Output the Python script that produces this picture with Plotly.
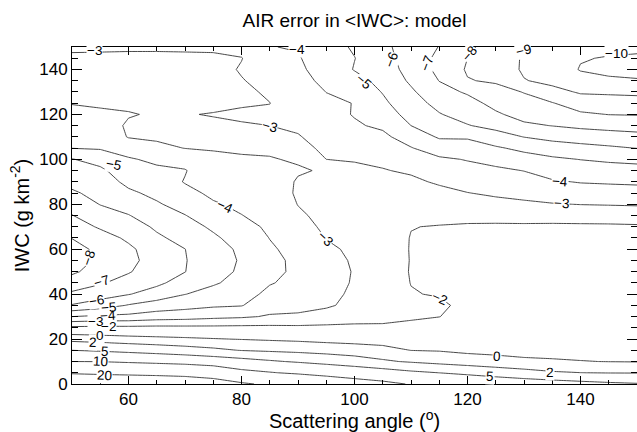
import plotly.graph_objects as go

# Scattering angle (deg) grid and IWC (g km-2) grid
scattering_angle = [50, 55, 60, 65, 70, 75, 80, 85, 90, 95, 100,
                    105, 110, 115, 120, 125, 130, 135, 140, 145, 150]
iwc = [0, 5, 10, 15, 20, 25, 30, 35, 40, 45, 50, 55, 60, 65, 70, 75,
       80, 85, 90, 95, 100, 105, 110, 115, 120, 125, 130, 135, 140, 145, 150]

# AIR error (%), one list per scattering angle (IWC 0..150)
err_050 = [29.5, 19.1, 10, 5, 1.2, -1.75, -4, -5.93, -6.81, -7.58, -8.15, -8.35, -8.3, -7.98, -7.51, -7.03,
           -6.58, -6.13, -5.74, -5.39, -5.04, -3.98, -3.73, -3.47, -3.21, -2.97, -2.8, -2.63, -2.75, -2.9, -3.1]
err_055 = [28.6, 18.45, 9.9, 4.53, 0.91, -1.71, -3.81, -5.5, -6.44, -7.1, -7.6, -7.85, -7.8, -7.45, -6.87, -6.41,
           -5.97, -5.71, -5.45, -5.18, -4.67, -3.91, -3.65, -3.39, -3.13, -2.9, -2.7, -2.6, -2.7, -2.88, -3.1]
err_060 = [28.2, 17.96, 9.22, 4.0, 0.63, -1.73, -3.75, -4.93, -6.05, -6.6, -7.08, -7.25, -7.2, -6.82, -6.43, -6.04,
           -5.6, -5.16, -4.78, -4.44, -4.1, -3.55, -2.95, -2.9, -3.05, -2.85, -2.65, -2.55, -2.65, -2.85, -3.1]
err_065 = [27.8, 17.4, 8.56, 3.5, 0.44, -1.71, -3.51, -4.55, -5.56, -6.2, -6.45, -6.6, -6.45, -6.15, -5.86, -5.48,
           -5.1, -4.78, -4.49, -4.19, -3.8, -3.23, -2.85, -2.8, -2.92, -2.75, -2.6, -2.55, -2.6, -2.85, -3.1]
err_070 = [27.0, 16.6, 7.9, 3.0, 0.27, -1.73, -3.42, -4.33, -5.02, -5.58, -6.02, -6.05, -6.01, -5.71, -5.37, -5.03,
           -4.64, -4.25, -3.95, -4.05, -3.65, -2.98, -2.8, -2.78, -2.95, -2.72, -2.6, -2.55, -2.6, -2.85, -3.12]
err_075 = [25.0, 14.8, 7.07, 2.49, 0.09, -1.75, -3.24, -4.14, -4.68, -5.1, -5.3, -5.4, -5.35, -5.15, -4.85, -4.47,
           -4.09, -3.83, -3.6, -3.38, -3.15, -2.95, -2.8, -2.82, -3.05, -2.75, -2.6, -2.6, -2.65, -2.85, -3.15]
err_080 = [21.2, 11.5, 6.22, 1.92, -0.07, -1.73, -3.13, -4.05, -4.4, -4.7, -4.88, -4.92, -4.85, -4.6, -4.3, -4.02,
           -3.83, -3.64, -3.45, -3.27, -3.08, -2.9, -2.85, -2.92, -3.15, -2.9, -2.85, -2.95, -3.08, -2.97, -3.3]
err_085 = [18.5, 10.3, 5.38, 1.62, -0.22, -1.75, -2.91, -3.37, -3.76, -4.06, -4.2, -4.22, -4.12, -3.98, -3.85, -3.71,
           -3.58, -3.44, -3.3, -3.17, -3.03, -2.92, -2.88, -3.0, -3.1, -2.99, -3.1, -3.3, -3.5, -3.72, -3.98]
err_090 = [16.2, 9.26, 4.67, 1.36, -0.34, -1.77, -2.9, -3.2, -3.5, -3.75, -3.85, -3.82, -3.7, -3.5, -3.3, -3.12,
           -2.98, -2.9, -2.95, -3.05, -2.95, -2.85, -2.95, -3.12, -3.3, -3.45, -3.6, -3.72, -3.85, -3.93, -4.05]
err_095 = [14.0, 8.3, 3.92, 1.08, -0.5, -1.8, -2.55, -3.15, -3.25, -3.35, -3.35, -3.25, -3.12, -2.98, -2.85, -2.78,
           -2.75, -2.78, -2.85, -2.95, -3.0, -3.1, -3.3, -3.5, -3.7, -3.85, -4.01, -4.2, -4.35, -4.5, -4.65]
err_100 = [12.4, 7.41, 3.17, 0.82, -0.6, -1.81, -2.35, -2.7, -2.85, -2.92, -2.95, -2.92, -2.88, -2.82, -2.75, -2.72,
           -2.75, -2.8, -2.86, -2.94, -3.02, -3.35, -3.65, -3.9, -4.05, -4.02, -4.3, -4.65, -5.05, -4.98, -5.1]
err_105 = [11.2, 6.55, 2.33, 0.52, -0.69, -1.85, -2.25, -2.45, -2.55, -2.55, -2.5, -2.45, -2.45, -2.45, -2.5, -2.6,
           -2.7, -2.8, -2.88, -2.96, -3.15, -3.5, -3.8, -4.15, -4.5, -4.8, -5.05, -5.3, -5.5, -5.6, -5.7]
err_110 = [9.7, 5.6, 1.75, -0.02, -0.8, -1.8, -2.1, -2.15, -2.05, -1.98, -1.95, -1.97, -1.96, -1.97, -2.02, -2.2,
           -2.45, -2.65, -2.85, -3.1, -3.5, -3.95, -4.45, -5.0, -5.35, -5.65, -5.85, -6.15, -6.35, -6.5, -6.6]
err_115 = [8.8, 4.98, 1.2, -0.1, -0.75, -1.4, -2.02, -2.2, -1.93, -1.8, -1.75, -1.72, -1.75, -1.82, -1.96, -2.25,
           -2.5, -2.78, -3.1, -3.5, -3.85, -4.5, -5.1, -5.6, -5.95, -6.25, -6.7, -7.02, -7.25, -7.2, -7.02]
err_120 = [8.3, 4.29, 0.75, -0.3, -0.7, -1.2, -1.55, -1.7, -1.6, -1.55, -1.55, -1.6, -1.65, -1.75, -1.9, -2.25,
           -2.55, -2.98, -3.35, -3.7, -4.05, -4.6, -5.1, -5.95, -6.35, -6.7, -7.1, -7.95, -8.1, -8.0, -7.8]
err_125 = [7.6, 3.54, 0.4, -0.3, -0.6, -0.9, -1.15, -1.3, -1.4, -1.48, -1.53, -1.58, -1.63, -1.72, -1.88, -2.27,
           -2.73, -3.14, -3.5, -3.83, -4.3, -4.88, -5.6, -6.28, -6.88, -7.25, -7.65, -8.12, -8.3, -8.45, -8.5]
err_130 = [7.0, 2.86, 0.2, -0.35, -0.6, -0.85, -1.1, -1.25, -1.35, -1.43, -1.5, -1.55, -1.62, -1.72, -1.87, -2.33,
           -2.85, -3.26, -3.63, -4.02, -4.6, -5.23, -6.02, -6.85, -7.3, -7.67, -8.04, -8.95, -9.15, -9.1, -8.95]
err_135 = [6.5, 2.26, 0.15, -0.45, -0.65, -0.85, -1.05, -1.2, -1.3, -1.38, -1.45, -1.52, -1.6, -1.7, -1.85, -2.35,
           -2.95, -3.45, -3.9, -4.4, -4.85, -5.5, -6.3, -7.02, -7.55, -7.95, -8.7, -9.25, -9.5, -9.6, -9.55]
err_140 = [5.95, 2.02, 0.05, -0.5, -0.7, -0.88, -1.05, -1.18, -1.28, -1.35, -1.42, -1.5, -1.58, -1.68, -1.85, -2.4,
           -3.02, -3.55, -4.05, -4.5, -5.02, -5.7, -6.45, -7.2, -7.85, -8.5, -9.1, -9.7, -10.05, -9.95, -9.75]
err_145 = [5.5, 1.93, -0.03, -0.55, -0.75, -0.9, -1.05, -1.17, -1.27, -1.33, -1.4, -1.47, -1.55, -1.65, -1.85, -2.45,
           -3.05, -3.6, -4.1, -4.6, -5.15, -5.85, -6.6, -7.3, -8.02, -8.55, -9.15, -9.8, -10.3, -10.05, -9.8]
err_150 = [5.2, 1.91, -0.07, -0.6, -0.8, -0.93, -1.05, -1.15, -1.25, -1.32, -1.38, -1.45, -1.53, -1.63, -1.88, -2.5,
           -3.08, -3.63, -4.15, -4.65, -5.25, -6.02, -6.7, -7.4, -8.05, -8.6, -9.2, -9.9, -10.4, -10.1, -9.85]

contour_levels = [-10, -9, -8, -7, -6, -5, -4, -3, -2, 0, 2, 5, 10, 20]

# Contour labels: text, angle (deg), IWC, text angle
label_text = ["\u22123", "\u22124", "\u22125", "\u22126", "\u22127", "\u22128", "\u22129", "\u221210",
              "\u22124", "\u22123", "\u22122", "\u22123", "\u22124", "\u22125", "\u22123",
              "\u22128", "\u22127", "\u22126", "\u22125", "\u22124", "\u22123", "\u22122",
              "0", "2", "5", "10", "20", "0", "2", "5"]
label_x = [54.0, 89.8, 101.6, 106.6, 112.8, 120.4, 129.9, 146.4,
           136.4, 136.7, 115.1, 94.8, 77.1, 57.3, 85.0,
           52.9, 55.2, 54.4, 56.4, 56.4, 54.1, 56.4,
           55.0, 53.8, 55.8, 55.0, 55.8, 125.2, 134.6, 124.0]
label_y = [148.5, 148.8, 134.6, 144.3, 142.8, 147.0, 148.5, 147.0,
           90.1, 80.2, 38.2, 64.9, 79.0, 97.6, 114.6,
           56.0, 45.6, 37.1, 34.2, 30.7, 27.8, 25.8,
           21.8, 18.4, 14.4, 9.9, 4.0, 12.2, 5.0, 3.3]
label_angle = [0, 0, 40, -69, -69, -49, -14, 0,
               4, 3, 24, 43, 25, 11, 16,
               -70, -17, -9, -5, -3, 0, 0,
               0, 3, 3, 3, 3, 3, 1, 3]

x_tick_values = [60, 80, 100, 120, 140]
y_tick_values = [0, 20, 40, 60, 80, 100, 120, 140]

columns = [err_050, err_055, err_060, err_065, err_070, err_075, err_080, err_085, err_090, err_095, err_100,
           err_105, err_110, err_115, err_120, err_125, err_130, err_135, err_140, err_145, err_150]
z = [[col[j] for col in columns] for j in range(len(iwc))]

FONT = "Liberation Sans, Arial, Helvetica, sans-serif"

fig = go.Figure()
for lev in contour_levels:
    fig.add_trace(go.Contour(
        x=scattering_angle, y=iwc, z=z,
        autocontour=False,
        contours=dict(start=lev, end=lev, size=1, coloring="none", showlabels=False),
        line=dict(color="#333333", width=0.9, smoothing=0),
        showscale=False, hoverinfo="skip",
    ))

annotations = []
# pass 1: white boxes that break the contour lines under each label
for t, lx, ly, ang in zip(label_text, label_x, label_y, label_angle):
    annotations.append(dict(
        x=lx, y=ly, xref="x", yref="y", text=t, showarrow=False,
        textangle=ang, xanchor="center", yanchor="middle",
        font=dict(size=13.5, color="rgba(0,0,0,0)", family=FONT),
        bgcolor="white", borderpad=0,
    ))
# pass 2: the label texts themselves (no box, so overlapping labels stay legible)
for t, lx, ly, ang in zip(label_text, label_x, label_y, label_angle):
    annotations.append(dict(
        x=lx, y=ly, xref="x", yref="y", text=t, showarrow=False,
        textangle=ang, xanchor="center", yanchor="middle",
        font=dict(size=13.5, color="black", family=FONT),
        borderpad=0,
    ))

fig.update_layout(
    width=637, height=432,
    margin=dict(l=72, r=0, t=47, b=48),
    paper_bgcolor="white", plot_bgcolor="white",
    font=dict(family=FONT, size=17, color="black"),
    title=dict(text="AIR error in &lt;IWC&gt;: model", x=0.5565, xanchor="center",
               y=0.953, yanchor="middle", font=dict(size=19, family=FONT)),
    showlegend=False,
    annotations=annotations,
)
fig.update_xaxes(
    range=[50, 150], tickvals=x_tick_values, ticks="inside", ticklen=8, tickwidth=1, tickcolor="black",
    minor=dict(dtick=5, tick0=50, ticks="inside", ticklen=4, tickwidth=1, tickcolor="black"),
    showline=True, linecolor="black", linewidth=1, mirror="ticks",
    showgrid=False, zeroline=False,
    title=dict(text="Scattering angle (<sup>o</sup>)", standoff=2),
)
fig.update_yaxes(
    range=[0, 150], tickvals=y_tick_values, ticks="inside", ticklen=10, tickwidth=1, tickcolor="black",
    minor=dict(dtick=5, tick0=0, ticks="inside", ticklen=6, tickwidth=1, tickcolor="black"),
    showline=True, linecolor="black", linewidth=1, mirror="ticks",
    showgrid=False, zeroline=False,
    title=dict(text="IWC (g km<sup>-2</sup>)", standoff=4),
)

fig.write_html("out.html")
